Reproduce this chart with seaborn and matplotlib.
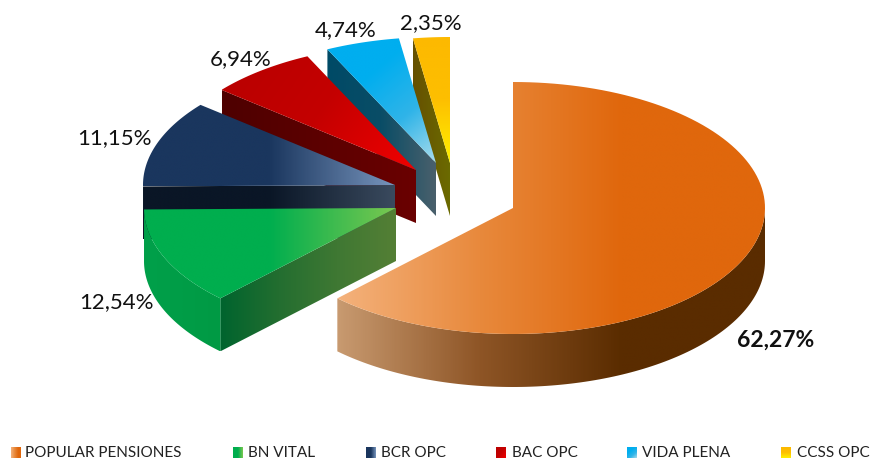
import numpy as np
import matplotlib
matplotlib.use("Agg")
import matplotlib.pyplot as plt
from matplotlib.patches import Polygon
import seaborn as sns

# Data
funds = ["POPULAR PENSIONES", "BN VITAL", "BCR OPC", "BAC OPC", "VIDA PLENA", "CCSS OPC"]
shares = [62.27, 12.54, 11.15, 6.94, 4.74, 2.35]

# Pie layout, in pixels
center_x, center_y = 513, 208
radius_x, radius_y = 252, 126
depth = 53
explode = [(0, 0), (-117, 0), (-118, -23), (-97, -38), (-77, -45), (-63, -45)]
label_pos = [(776, 340), (116, 302), (114, 138), (241, 59), (346, 30), (431, 23)]
legend_swatch_x = [11, 233, 366, 496, 627, 781]
legend_text_x = [25, 248, 381, 512, 642, 797]

# Colours
top_colors = [
    ["#F4B27C", "#E8893C", "#E0670C", "#E0670C"],
    ["#00AE4E", "#00AE4E", "#7AC850"],
    ["#1A365E", "#1A365E", "#7794BC"],
    ["#B80000", "#C40000", "#F00000"],
    ["#00AEEF", "#00AEEF", "#30B4E8", "#A8DCEC"],
    ["#FDB900", "#FDBF00", "#FFF000"],
]
top_angle = [0, 0, 0, 35, 50, 90]
cut_colors = [
    None,
    ["#00642E", "#236E30", "#3F7833", "#547F35"],
    ["#0A1626", "#0A1626", "#3A4A5E"],
    ["#4E0000", "#6A0000"],
    ["#004A66", "#0A4D66", "#4A606C"],
    ["#665000", "#6B6B00"],
]
rim_colors = [
    ["#C89A70", "#8E5526", "#5A2C00", "#5A2C00"],
    ["#00A04A", "#009A44"],
]


def arc(cx, cy, t0, t1):
    t = np.radians(np.linspace(t0, t1, 120))
    return np.column_stack([cx + radius_x * np.sin(t), cy - radius_y * np.cos(t)])


def gradient_fill(ax, pts, colors, angle=0):
    cmap = sns.blend_palette(colors, as_cmap=True)
    x0, y0 = pts.min(axis=0)
    x1, y1 = pts.max(axis=0)
    xx, yy = np.meshgrid(np.linspace(0, 1, 300), np.linspace(0, 1, 300))
    a = np.radians(angle)
    g = xx * (x1 - x0) * np.cos(a) + yy * (y1 - y0) * np.sin(a)
    im = ax.imshow(g, cmap=cmap, extent=(x0, x1, y1, y0), origin="upper",
                   aspect="auto", interpolation="bilinear", zorder=ax.next_z)
    im.set_clip_path(Polygon(pts, transform=ax.transData))
    ax.next_z += 1


sns.set_theme(style="white")
plt.rcParams["font.family"] = ["Lato", "DejaVu Sans"]

fig = plt.figure(figsize=(8.71, 4.61), dpi=100)
ax = fig.add_axes([0, 0, 1, 1])
ax.next_z = 1

# Wedge angles, clockwise from twelve o'clock
edges = np.cumsum([0] + shares) / sum(shares) * 360

# Back to front: the small slices first, the big one last
for i in reversed(range(len(shares))):
    cx = center_x + explode[i][0]
    cy = center_y + explode[i][1]
    t0, t1 = edges[i], edges[i + 1]

    # flat face left by the cut, along the start radius
    if cut_colors[i] is not None:
        outer = arc(cx, cy, t0, t0)[0]
        cut = np.array([[cx, cy], outer, outer + [0, depth], [cx, cy + depth]])
        gradient_fill(ax, cut, cut_colors[i])

    # outer rim, only where it faces the viewer
    if i < 2:
        rim_start = max(t0, 90)
        top_edge = arc(cx, cy, rim_start, t1)
        rim = np.vstack([top_edge, top_edge[::-1] + [0, depth]])
        gradient_fill(ax, rim, rim_colors[i])

    top = np.vstack([[cx, cy], arc(cx, cy, t0, t1)])
    gradient_fill(ax, top, top_colors[i], top_angle[i])

# Percent labels
for i, share in enumerate(shares):
    txt = f"{share:.2f}%".replace(".", ",")
    ax.text(label_pos[i][0], label_pos[i][1], txt, ha="center", va="center",
            fontsize=16.5 if i == 0 else 16, color="#111111",
            fontweight="bold" if i == 0 else "normal", zorder=50)

# Legend
for i, name in enumerate(funds):
    x = legend_swatch_x[i]
    swatch = np.array([[x, 447], [x + 10, 447], [x + 10, 458], [x, 458]])
    gradient_fill(ax, swatch, top_colors[i], top_angle[i])
    ax.text(legend_text_x[i], 453, name, ha="left", va="center", fontsize=11,
            color="#222222", zorder=50)

ax.set_xlim(0, 871)
ax.set_ylim(461, 0)
ax.axis("off")

fig.savefig("out.png", dpi=100, facecolor="white")
